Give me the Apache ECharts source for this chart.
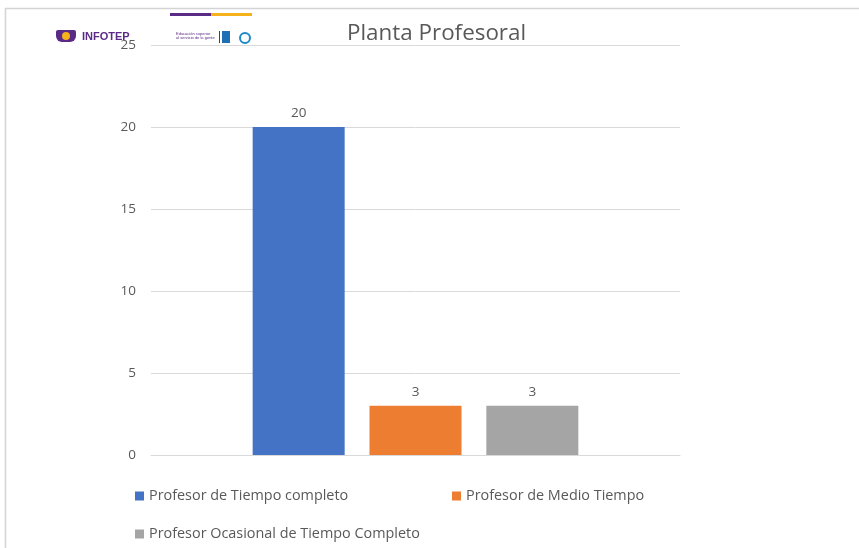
<!DOCTYPE html>
<html>
<head>
<meta charset="utf-8">
<script src="https://cdn.jsdelivr.net/npm/echarts@6/dist/echarts.min.js"></script>
<style>
html,body{margin:0;padding:0;background:#fff;}
#c{width:859px;height:548px;}
</style>
</head>
<body>
<div id="c"></div>
<script>
var categories = [''];
var seriesNames = ['Profesor de Tiempo completo', 'Profesor de Medio Tiempo', 'Profesor Ocasional de Tiempo Completo'];
var seriesValues = [[20], [3], [3]];
var seriesColors = ['#4472C4', '#ED7D31', '#A5A5A5'];
var yTicks = [0, 5, 10, 15, 20, 25];

var font = '"Open Sans", sans-serif';
var chart = echarts.init(document.getElementById('c'), null, {renderer: 'canvas'});

var series = seriesNames.map(function (n, i) {
  return {
    name: n,
    type: 'bar',
    data: seriesValues[i],
    barWidth: 92,
    barGap: '27%',
    itemStyle: {color: seriesColors[i]},
    label: {show: true, position: 'top', distance: 7, color: '#595959', fontSize: 13.5, fontFamily: font}
  };
});

var legendPos = [{left: 135, top: 489}, {left: 452, top: 489}, {left: 135, top: 527}];
var legends = seriesNames.map(function (n, i) {
  return {
    data: [n], left: legendPos[i].left, top: legendPos[i].top, padding: 0,
    itemWidth: 9, itemHeight: 9, itemGap: 5, icon: 'rect',
    textStyle: {color: '#595959', fontSize: 14.4, fontFamily: font}
  };
});

chart.setOption({
  animation: false,
  backgroundColor: '#fff',
  title: {
    text: 'Planta Profesoral', left: 347, top: 23, padding: 0,
    textStyle: {color: '#595959', fontSize: 22.4, fontWeight: 'normal', fontFamily: font}
  },
  legend: legends,
  grid: {left: 151, right: 179, top: 45, bottom: 93},
  xAxis: {
    type: 'category', data: categories,
    axisLine: {lineStyle: {color: '#d9d9d9'}}, axisTick: {show: false}, axisLabel: {show: false}
  },
  yAxis: {
    type: 'value', min: yTicks[0], max: yTicks[yTicks.length - 1], interval: 5,
    axisLine: {show: false}, axisTick: {show: false},
    splitLine: {lineStyle: {color: '#d9d9d9'}},
    axisLabel: {color: '#595959', fontSize: 13.5, margin: 15, fontFamily: font}
  },
  series: series,
  graphic: [
    {type: 'line', shape: {x1: 5, y1: 8.5, x2: 859, y2: 8.5}, style: {stroke: '#d4d4d4', lineWidth: 1.5}, silent: true},
    {type: 'line', shape: {x1: 5.5, y1: 8, x2: 5.5, y2: 548}, style: {stroke: '#d4d4d4', lineWidth: 1.5}, silent: true},
    {type: 'rect', shape: {x: 170, y: 13, width: 41, height: 3}, style: {fill: '#5b2a86'}, silent: true},
    {type: 'rect', shape: {x: 211, y: 13, width: 41, height: 3}, style: {fill: '#f6b21b'}, silent: true},
    {type: 'rect', shape: {x: 56, y: 30, width: 20, height: 12, r: [2, 2, 6, 6]}, style: {fill: '#5b2a86'}, silent: true},
    {type: 'circle', shape: {cx: 66, cy: 36, r: 4}, style: {fill: '#f6b21b'}, silent: true},
    {type: 'text', left: 82, top: 31, style: {text: 'INFOTEP', fill: '#5b2a86', font: 'bold 11px "Liberation Sans", sans-serif'}, silent: true},
    {type: 'text', left: 176, top: 32, style: {text: 'Educación superior\nal servicio de la gente', fill: '#5b2a86', font: '4px "Liberation Sans", sans-serif'}, silent: true},
    {type: 'rect', shape: {x: 219, y: 31, width: 1, height: 12}, style: {fill: '#5b2a86'}, silent: true},
    {type: 'rect', shape: {x: 222, y: 31, width: 8, height: 12}, style: {fill: '#1e6fb5'}, silent: true},
    {type: 'circle', shape: {cx: 245, cy: 38, r: 5}, style: {fill: '#fff', stroke: '#1e8ac9', lineWidth: 2}, silent: true}
  ]
});
</script>
</body>
</html>
